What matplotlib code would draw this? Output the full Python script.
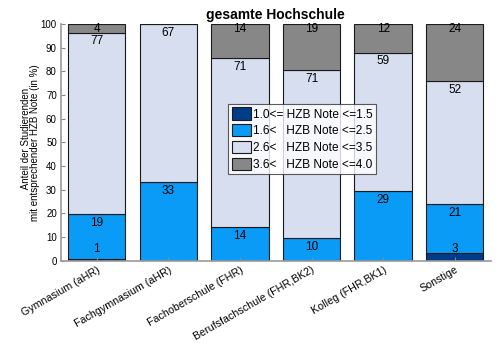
import matplotlib.pyplot as plt
import numpy as np

plt.rcParams['font.family'] = ['Liberation Sans', 'DejaVu Sans']

# school types
schulen = ['Gymnasium (aHR)', 'Fachgymnasium (aHR)', 'Fachoberschule (FHR)',
           'Berufsfachschule (FHR,BK2)', 'Kolleg (FHR,BK1)', 'Sonstige']

# share of students per grade band (in %)
note_1 = [0.6, 0.0, 0.0, 0.0, 0.0, 3.2]
note_2 = [19.2, 33.3, 14.3, 9.6, 29.4, 20.8]
note_3 = [76.6, 66.7, 71.4, 71.0, 58.6, 51.8]
note_4 = [3.6, 0.0, 14.3, 19.4, 12.0, 24.2]

legende = ['1.0<= HZB Note <=1.5', '1.6<   HZB Note <=2.5',
           '2.6<   HZB Note <=3.5', '3.6<   HZB Note <=4.0']
farben = ['#003c87', '#0a9bf7', '#d6deef', '#878787']

fig = plt.figure(figsize=(5, 3.55), dpi=100)
ax = fig.add_axes([0.122, 0.266, 0.859, 0.666])

x = np.arange(len(schulen))
unten = np.zeros(len(schulen))
for i, werte in enumerate([note_1, note_2, note_3, note_4]):
    werte = np.array(werte)
    ax.bar(x, werte, 0.8, bottom=unten, color=farben[i], edgecolor='#1a1a1a',
           linewidth=0.8, label=legende[i])
    oben = unten + werte
    for k in range(len(x)):
        if werte[k] <= 0:
            continue
        if i == 3:
            y = oben[k] - 2.2
        else:
            y = max(oben[k] - 3.7, 5.0)
        ax.text(x[k], y, '%.0f' % werte[k], ha='center', va='center', fontsize=8.5)
    unten = oben

ax.set_xlim(-0.5, 5.5)
ax.set_ylim(0, 100)
ax.set_yticks(np.arange(0, 101, 10))
ax.set_xticks(x)
ax.set_xticklabels(schulen, rotation=30, ha='right', rotation_mode='anchor', fontsize=7.7)
ax.tick_params(axis='y', direction='in', length=3, labelsize=7, color='#888888', pad=3)
ax.tick_params(axis='x', direction='in', length=3, color='#888888', pad=3)
for s in ['top', 'right']:
    ax.spines[s].set_visible(False)
for s in ['left', 'bottom']:
    ax.spines[s].set_color('#999999')
    ax.spines[s].set_linewidth(1.2)

ax.set_ylabel('   Anteil der Studierenden\nmit entsprechender HZB Note (in %)',
              fontsize=7, linespacing=0.9, labelpad=0.5)
ax.set_title('gesamte Hochschule', fontsize=10, fontweight='bold', pad=4)

leg = ax.legend(loc='center', bbox_to_anchor=(0.561, 0.514), fontsize=8.6,
                frameon=True, fancybox=False, handlelength=1.6, handleheight=1.2,
                handletextpad=0.15, labelspacing=0.3, borderpad=0.3, borderaxespad=0)
leg.get_frame().set_edgecolor('#333333')
leg.get_frame().set_linewidth(0.8)

fig.savefig('out.png', dpi=100)
